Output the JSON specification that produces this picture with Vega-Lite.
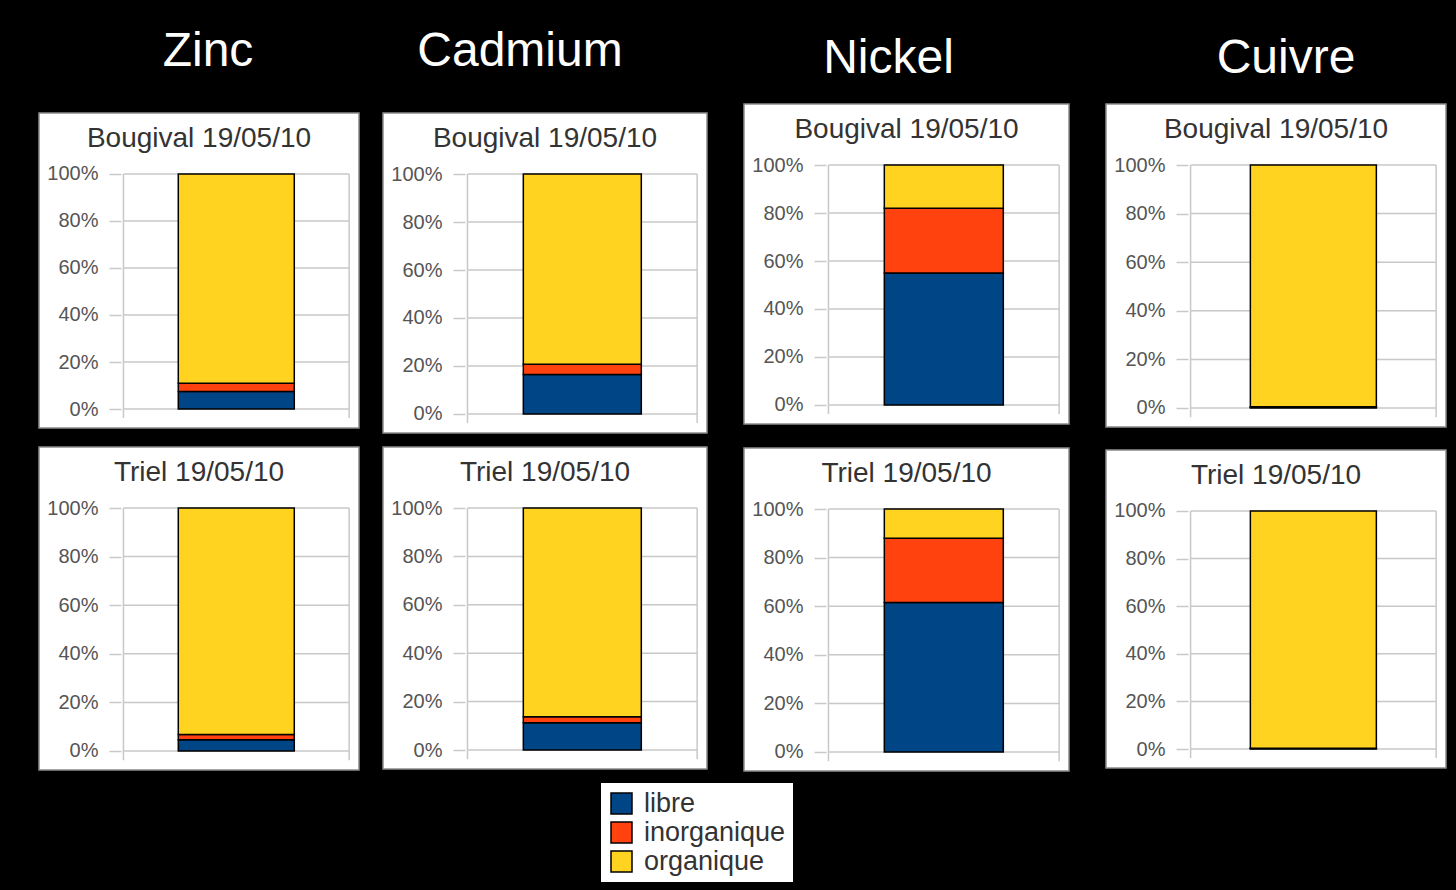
{
  "$schema": "https://vega.github.io/schema/vega-lite/v6.json",
  "background": "black",
  "padding": {"left": 38, "top": 28, "right": 9, "bottom": 10},
  "datasets": {
    "especes": [
      {"metal": "Zinc", "site": "Bougival", "espece": "libre", "rang": 1, "part": 7.5},
      {"metal": "Zinc", "site": "Bougival", "espece": "inorganique", "rang": 2, "part": 3.5},
      {"metal": "Zinc", "site": "Bougival", "espece": "organique", "rang": 3, "part": 89.0},
      {"metal": "Zinc", "site": "Triel", "espece": "libre", "rang": 1, "part": 4.6},
      {"metal": "Zinc", "site": "Triel", "espece": "inorganique", "rang": 2, "part": 2.2},
      {"metal": "Zinc", "site": "Triel", "espece": "organique", "rang": 3, "part": 93.2},
      {"metal": "Cadmium", "site": "Bougival", "espece": "libre", "rang": 1, "part": 16.5},
      {"metal": "Cadmium", "site": "Bougival", "espece": "inorganique", "rang": 2, "part": 4.2},
      {"metal": "Cadmium", "site": "Bougival", "espece": "organique", "rang": 3, "part": 79.3},
      {"metal": "Cadmium", "site": "Triel", "espece": "libre", "rang": 1, "part": 11.3},
      {"metal": "Cadmium", "site": "Triel", "espece": "inorganique", "rang": 2, "part": 2.4},
      {"metal": "Cadmium", "site": "Triel", "espece": "organique", "rang": 3, "part": 86.3},
      {"metal": "Nickel", "site": "Bougival", "espece": "libre", "rang": 1, "part": 55.0},
      {"metal": "Nickel", "site": "Bougival", "espece": "inorganique", "rang": 2, "part": 27.0},
      {"metal": "Nickel", "site": "Bougival", "espece": "organique", "rang": 3, "part": 18.0},
      {"metal": "Nickel", "site": "Triel", "espece": "libre", "rang": 1, "part": 61.5},
      {"metal": "Nickel", "site": "Triel", "espece": "inorganique", "rang": 2, "part": 26.5},
      {"metal": "Nickel", "site": "Triel", "espece": "organique", "rang": 3, "part": 12.0},
      {"metal": "Cuivre", "site": "Bougival", "espece": "libre", "rang": 1, "part": 0.3},
      {"metal": "Cuivre", "site": "Bougival", "espece": "inorganique", "rang": 2, "part": 0.2},
      {"metal": "Cuivre", "site": "Bougival", "espece": "organique", "rang": 3, "part": 99.5},
      {"metal": "Cuivre", "site": "Triel", "espece": "libre", "rang": 1, "part": 0.2},
      {"metal": "Cuivre", "site": "Triel", "espece": "inorganique", "rang": 2, "part": 0.1},
      {"metal": "Cuivre", "site": "Triel", "espece": "organique", "rang": 3, "part": 99.7}
    ],
    "graduations": [{"g": 0}, {"g": 20}, {"g": 40}, {"g": 60}, {"g": 80}, {"g": 100}],
    "cadre": [{"c": 0}, {"c": 1}]
  },
  "spacing": 35,
  "hconcat": [
    {
      "spacing": 22,
      "hconcat": [
        {
          "title": {"text": "Zinc", "fontSize": 48, "color": "white", "offset": 28, "dx": 9, "anchor": "middle", "frame": "bounds"},
          "spacing": 0,
          "vconcat": [
            {"width": 10, "height": 8, "view": {"fill": null, "stroke": null}, "data": {"values": [{}]}, "mark": {"type": "point", "opacity": 0}, "encoding": {}},
            {
              "spacing": 17,
              "vconcat": [
                {
                  "width": 320, "height": 315,
                  "title": "Bougival 19/05/10",
                  "layer": [
                    {"data": {"name": "graduations"}, "mark": {"type": "rule", "color": "#c8c8c8", "strokeWidth": 1.5},
                     "encoding": {
                       "x": {"datum": 0, "type": "quantitative", "scale": {"domain": [-0.3519, 1.0215], "nice": false, "zero": false}, "axis": null},
                       "x2": {"datum": 1},
                       "y": {"field": "g", "type": "quantitative", "title": null, "scale": {"domain": [-8.085, 125.957], "nice": false, "zero": false},
                             "axis": {"values": [0, 20, 40, 60, 80, 100], "labelExpr": "datum.value + '%'"}}}},
                    {"data": {"name": "cadre"}, "mark": {"type": "rule", "color": "#c8c8c8", "strokeWidth": 1.5},
                     "encoding": {"x": {"field": "c", "type": "quantitative", "axis": null}, "y": {"datum": -3.8, "title": null}, "y2": {"datum": 100}}},
                    {"data": {"name": "especes"}, "transform": [{"filter": "datum.metal === 'Zinc' && datum.site === 'Bougival'"}],
                     "mark": {"type": "bar", "stroke": "black", "strokeWidth": 1.5, "width": 116},
                     "encoding": {
                       "x": {"datum": 0.5, "axis": null},
                       "y": {"field": "part", "type": "quantitative", "stack": "zero", "title": null},
                       "order": {"field": "rang", "type": "quantitative"},
                       "color": {"field": "espece", "type": "nominal", "sort": ["libre", "inorganique", "organique"],
                                 "scale": {"domain": ["libre", "inorganique", "organique"], "range": ["#004586", "#ff420e", "#ffd320"]}}}}
                  ]
                },
                {
                  "width": 320, "height": 323,
                  "title": "Triel 19/05/10",
                  "layer": [
                    {"data": {"name": "graduations"}, "mark": {"type": "rule", "color": "#c8c8c8", "strokeWidth": 1.5},
                     "encoding": {
                       "x": {"datum": 0, "type": "quantitative", "scale": {"domain": [-0.3519, 1.0215], "nice": false, "zero": false}, "axis": null},
                       "x2": {"datum": 1},
                       "y": {"field": "g", "type": "quantitative", "title": null, "scale": {"domain": [-7.819, 125.103], "nice": false, "zero": false},
                             "axis": {"values": [0, 20, 40, 60, 80, 100], "labelExpr": "datum.value + '%'"}}}},
                    {"data": {"name": "cadre"}, "mark": {"type": "rule", "color": "#c8c8c8", "strokeWidth": 1.5},
                     "encoding": {"x": {"field": "c", "type": "quantitative", "axis": null}, "y": {"datum": -3.8, "title": null}, "y2": {"datum": 100}}},
                    {"data": {"name": "especes"}, "transform": [{"filter": "datum.metal === 'Zinc' && datum.site === 'Triel'"}],
                     "mark": {"type": "bar", "stroke": "black", "strokeWidth": 1.5, "width": 116},
                     "encoding": {
                       "x": {"datum": 0.5, "axis": null},
                       "y": {"field": "part", "type": "quantitative", "stack": "zero", "title": null},
                       "order": {"field": "rang", "type": "quantitative"},
                       "color": {"field": "espece", "type": "nominal", "sort": ["libre", "inorganique", "organique"],
                                 "scale": {"domain": ["libre", "inorganique", "organique"], "range": ["#004586", "#ff420e", "#ffd320"]}}}}
                  ]
                }
              ]
            }
          ]
        },
        {
          "title": {"text": "Cadmium", "fontSize": 48, "color": "white", "offset": 28, "dx": -25, "anchor": "middle", "frame": "bounds"},
          "spacing": 0,
          "vconcat": [
            {"width": 10, "height": 8, "view": {"fill": null, "stroke": null}, "data": {"values": [{}]}, "mark": {"type": "point", "opacity": 0}, "encoding": {}},
            {
              "spacing": 12,
              "vconcat": [
                {
                  "width": 324, "height": 320,
                  "title": "Bougival 19/05/10",
                  "layer": [
                    {"data": {"name": "graduations"}, "mark": {"type": "rule", "color": "#c8c8c8", "strokeWidth": 1.5},
                     "encoding": {
                       "x": {"datum": 0, "type": "quantitative", "scale": {"domain": [-0.346, 1.0211], "nice": false, "zero": false}, "axis": null},
                       "x2": {"datum": 1},
                       "y": {"field": "g", "type": "quantitative", "title": null, "scale": {"domain": [-7.917, 125.417], "nice": false, "zero": false},
                             "axis": {"values": [0, 20, 40, 60, 80, 100], "labelExpr": "datum.value + '%'"}}}},
                    {"data": {"name": "cadre"}, "mark": {"type": "rule", "color": "#c8c8c8", "strokeWidth": 1.5},
                     "encoding": {"x": {"field": "c", "type": "quantitative", "axis": null}, "y": {"datum": -3.8, "title": null}, "y2": {"datum": 100}}},
                    {"data": {"name": "especes"}, "transform": [{"filter": "datum.metal === 'Cadmium' && datum.site === 'Bougival'"}],
                     "mark": {"type": "bar", "stroke": "black", "strokeWidth": 1.5, "width": 118},
                     "encoding": {
                       "x": {"datum": 0.5, "axis": null},
                       "y": {"field": "part", "type": "quantitative", "stack": "zero", "title": null},
                       "order": {"field": "rang", "type": "quantitative"},
                       "color": {"field": "espece", "type": "nominal", "sort": ["libre", "inorganique", "organique"],
                                 "scale": {"domain": ["libre", "inorganique", "organique"], "range": ["#004586", "#ff420e", "#ffd320"]}}}}
                  ]
                },
                {
                  "width": 324, "height": 322,
                  "title": "Triel 19/05/10",
                  "layer": [
                    {"data": {"name": "graduations"}, "mark": {"type": "rule", "color": "#c8c8c8", "strokeWidth": 1.5},
                     "encoding": {
                       "x": {"datum": 0, "type": "quantitative", "scale": {"domain": [-0.346, 1.0211], "nice": false, "zero": false}, "axis": null},
                       "x2": {"datum": 1},
                       "y": {"field": "g", "type": "quantitative", "title": null, "scale": {"domain": [-7.851, 125.207], "nice": false, "zero": false},
                             "axis": {"values": [0, 20, 40, 60, 80, 100], "labelExpr": "datum.value + '%'"}}}},
                    {"data": {"name": "cadre"}, "mark": {"type": "rule", "color": "#c8c8c8", "strokeWidth": 1.5},
                     "encoding": {"x": {"field": "c", "type": "quantitative", "axis": null}, "y": {"datum": -3.8, "title": null}, "y2": {"datum": 100}}},
                    {"data": {"name": "especes"}, "transform": [{"filter": "datum.metal === 'Cadmium' && datum.site === 'Triel'"}],
                     "mark": {"type": "bar", "stroke": "black", "strokeWidth": 1.5, "width": 118},
                     "encoding": {
                       "x": {"datum": 0.5, "axis": null},
                       "y": {"field": "part", "type": "quantitative", "stack": "zero", "title": null},
                       "order": {"field": "rang", "type": "quantitative"},
                       "color": {"field": "espece", "type": "nominal", "sort": ["libre", "inorganique", "organique"],
                                 "scale": {"domain": ["libre", "inorganique", "organique"], "range": ["#004586", "#ff420e", "#ffd320"]}}}}
                  ]
                }
              ]
            }
          ]
        }
      ]
    },
    {
      "spacing": 35,
      "hconcat": [
        {
          "title": {"text": "Nickel", "fontSize": 48, "color": "white", "offset": 20, "dx": -18, "anchor": "middle", "frame": "bounds"},
          "spacing": 22,
          "vconcat": [
            {
              "width": 325, "height": 320,
              "title": "Bougival 19/05/10",
              "layer": [
                {"data": {"name": "graduations"}, "mark": {"type": "rule", "color": "#c8c8c8", "strokeWidth": 1.5},
                 "encoding": {
                   "x": {"datum": 0, "type": "quantitative", "scale": {"domain": [-0.3445, 1.021], "nice": false, "zero": false}, "axis": null},
                   "x2": {"datum": 1},
                   "y": {"field": "g", "type": "quantitative", "title": null, "scale": {"domain": [-7.917, 125.417], "nice": false, "zero": false},
                         "axis": {"values": [0, 20, 40, 60, 80, 100], "labelExpr": "datum.value + '%'"}}}},
                {"data": {"name": "cadre"}, "mark": {"type": "rule", "color": "#c8c8c8", "strokeWidth": 1.5},
                 "encoding": {"x": {"field": "c", "type": "quantitative", "axis": null}, "y": {"datum": -3.8, "title": null}, "y2": {"datum": 100}}},
                {"data": {"name": "especes"}, "transform": [{"filter": "datum.metal === 'Nickel' && datum.site === 'Bougival'"}],
                 "mark": {"type": "bar", "stroke": "black", "strokeWidth": 1.5, "width": 119},
                 "encoding": {
                   "x": {"datum": 0.5, "axis": null},
                   "y": {"field": "part", "type": "quantitative", "stack": "zero", "title": null},
                   "order": {"field": "rang", "type": "quantitative"},
                   "color": {"field": "espece", "type": "nominal", "sort": ["libre", "inorganique", "organique"],
                             "scale": {"domain": ["libre", "inorganique", "organique"], "range": ["#004586", "#ff420e", "#ffd320"]}}}}
              ]
            },
            {
              "width": 325, "height": 323,
              "title": "Triel 19/05/10",
              "layer": [
                {"data": {"name": "graduations"}, "mark": {"type": "rule", "color": "#c8c8c8", "strokeWidth": 1.5},
                 "encoding": {
                   "x": {"datum": 0, "type": "quantitative", "scale": {"domain": [-0.3445, 1.021], "nice": false, "zero": false}, "axis": null},
                   "x2": {"datum": 1},
                   "y": {"field": "g", "type": "quantitative", "title": null, "scale": {"domain": [-7.819, 125.103], "nice": false, "zero": false},
                         "axis": {"values": [0, 20, 40, 60, 80, 100], "labelExpr": "datum.value + '%'"}}}},
                {"data": {"name": "cadre"}, "mark": {"type": "rule", "color": "#c8c8c8", "strokeWidth": 1.5},
                 "encoding": {"x": {"field": "c", "type": "quantitative", "axis": null}, "y": {"datum": -3.8, "title": null}, "y2": {"datum": 100}}},
                {"data": {"name": "especes"}, "transform": [{"filter": "datum.metal === 'Nickel' && datum.site === 'Triel'"}],
                 "mark": {"type": "bar", "stroke": "black", "strokeWidth": 1.5, "width": 119},
                 "encoding": {
                   "x": {"datum": 0.5, "axis": null},
                   "y": {"field": "part", "type": "quantitative", "stack": "zero", "title": null},
                   "order": {"field": "rang", "type": "quantitative"},
                   "color": {"field": "espece", "type": "nominal", "sort": ["libre", "inorganique", "organique"],
                             "scale": {"domain": ["libre", "inorganique", "organique"], "range": ["#004586", "#ff420e", "#ffd320"]}}}}
              ]
            }
          ]
        },
        {
          "title": {"text": "Cuivre", "fontSize": 48, "color": "white", "offset": 20, "dx": 10, "anchor": "middle", "frame": "bounds"},
          "spacing": 21,
          "vconcat": [
            {
              "width": 340, "height": 323,
              "title": "Bougival 19/05/10",
              "layer": [
                {"data": {"name": "graduations"}, "mark": {"type": "rule", "color": "#c8c8c8", "strokeWidth": 1.5},
                 "encoding": {
                   "x": {"datum": 0, "type": "quantitative", "scale": {"domain": [-0.3241, 1.0198], "nice": false, "zero": false}, "axis": null},
                   "x2": {"datum": 1},
                   "y": {"field": "g", "type": "quantitative", "title": null, "scale": {"domain": [-7.819, 125.103], "nice": false, "zero": false},
                         "axis": {"values": [0, 20, 40, 60, 80, 100], "labelExpr": "datum.value + '%'"}}}},
                {"data": {"name": "cadre"}, "mark": {"type": "rule", "color": "#c8c8c8", "strokeWidth": 1.5},
                 "encoding": {"x": {"field": "c", "type": "quantitative", "axis": null}, "y": {"datum": -3.8, "title": null}, "y2": {"datum": 100}}},
                {"data": {"name": "especes"}, "transform": [{"filter": "datum.metal === 'Cuivre' && datum.site === 'Bougival'"}],
                 "mark": {"type": "bar", "stroke": "black", "strokeWidth": 1.5, "width": 126},
                 "encoding": {
                   "x": {"datum": 0.5, "axis": null},
                   "y": {"field": "part", "type": "quantitative", "stack": "zero", "title": null},
                   "order": {"field": "rang", "type": "quantitative"},
                   "color": {"field": "espece", "type": "nominal", "sort": ["libre", "inorganique", "organique"],
                             "scale": {"domain": ["libre", "inorganique", "organique"], "range": ["#004586", "#ff420e", "#ffd320"]}}}}
              ]
            },
            {
              "width": 340, "height": 318,
              "title": "Triel 19/05/10",
              "layer": [
                {"data": {"name": "graduations"}, "mark": {"type": "rule", "color": "#c8c8c8", "strokeWidth": 1.5},
                 "encoding": {
                   "x": {"datum": 0, "type": "quantitative", "scale": {"domain": [-0.3241, 1.0198], "nice": false, "zero": false}, "axis": null},
                   "x2": {"datum": 1},
                   "y": {"field": "g", "type": "quantitative", "title": null, "scale": {"domain": [-7.983, 125.63], "nice": false, "zero": false},
                         "axis": {"values": [0, 20, 40, 60, 80, 100], "labelExpr": "datum.value + '%'"}}}},
                {"data": {"name": "cadre"}, "mark": {"type": "rule", "color": "#c8c8c8", "strokeWidth": 1.5},
                 "encoding": {"x": {"field": "c", "type": "quantitative", "axis": null}, "y": {"datum": -3.8, "title": null}, "y2": {"datum": 100}}},
                {"data": {"name": "especes"}, "transform": [{"filter": "datum.metal === 'Cuivre' && datum.site === 'Triel'"}],
                 "mark": {"type": "bar", "stroke": "black", "strokeWidth": 1.5, "width": 126},
                 "encoding": {
                   "x": {"datum": 0.5, "axis": null},
                   "y": {"field": "part", "type": "quantitative", "stack": "zero", "title": null},
                   "order": {"field": "rang", "type": "quantitative"},
                   "color": {"field": "espece", "type": "nominal", "sort": ["libre", "inorganique", "organique"],
                             "scale": {"domain": ["libre", "inorganique", "organique"], "range": ["#004586", "#ff420e", "#ffd320"]},
                             "legend": {"orient": "none", "legendX": 562, "legendY": 679, "title": null, "fillColor": "white",
                                        "padding": 7, "labelFontSize": 27, "labelColor": "#333", "labelFont": "Liberation Sans",
                                        "symbolType": "square", "symbolSize": 441, "symbolStrokeColor": "black", "symbolStrokeWidth": 1.5,
                                        "symbolOpacity": 1, "rowPadding": 1, "labelOffset": 9}}}}
              ]
            }
          ]
        }
      ]
    }
  ],
  "config": {
    "view": {"fill": "white", "stroke": "#8c8c8c", "strokeWidth": 1.5},
    "title": {"font": "Liberation Sans", "fontSize": 28, "fontWeight": "normal", "color": "#333", "offset": -40, "frame": "group", "anchor": "middle"},
    "axisY": {"offset": -82, "minExtent": 0, "domain": false, "grid": false, "ticks": true, "tickSize": 12, "tickColor": "#c8c8c8", "tickWidth": 1.5,
              "labelPadding": 11, "labelFontSize": 20, "labelColor": "#555", "labelFont": "Liberation Sans"}
  }
}
